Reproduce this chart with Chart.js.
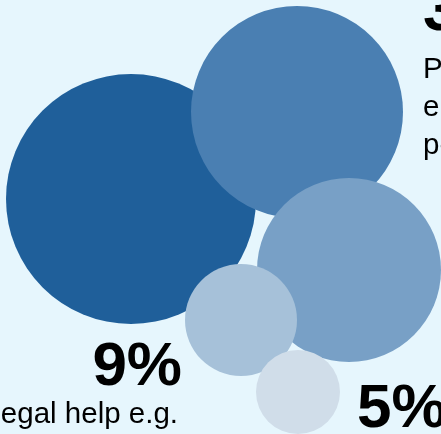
<!DOCTYPE html>
<html>
<head>
<meta charset="utf-8">
<script src="https://cdn.jsdelivr.net/npm/chart.js@4"></script>
<style>
  html, body { margin: 0; padding: 0; background: #e6f6fd; overflow: hidden; }
  #wrap { width: 441px; height: 434px; position: relative; }
</style>
</head>
<body>
<div id="wrap"><canvas id="bubbles"></canvas></div>
<script>
// bubble data (page units = pixels, y grows downward)
const shares = ['9%', '3%', '', '', '5%'];
const bubbleX = [131, 297, 349, 241, 298];
const bubbleY = [199, 112, 270, 320, 392];
const bubbleR = [125, 106, 92, 56, 42];
const bubbleColors = ['#1f5f9a', '#4a7fb2', '#78a0c6', '#a6c1d9', '#d0dde9'];

// callout texts
const bigNumbers = ['3', '9%', '5%'];
const rightLines = ['P', 'e', 'pe'];
const leftLine = 'egal help e.g.';

const points = bubbleX.map(function (x, i) {
  return { x: x, y: bubbleY[i], r: bubbleR[i] };
});

// draw the labels on top of the bubbles
const textPlugin = {
  id: 'calloutText',
  afterDatasetsDraw(chart) {
    const ctx = chart.ctx;
    ctx.save();
    ctx.fillStyle = '#000';
    ctx.textBaseline = 'alphabetic';

    ctx.font = 'bold 62px "Liberation Sans", Arial, sans-serif';
    ctx.textAlign = 'left';
    ctx.fillText(bigNumbers[0], 423, 30);
    ctx.textAlign = 'right';
    ctx.fillText(bigNumbers[1], 182, 385);
    ctx.textAlign = 'left';
    ctx.fillText(bigNumbers[2], 357, 427);

    ctx.font = '29.5px "Liberation Sans", Arial, sans-serif';
    ctx.textAlign = 'left';
    rightLines.forEach(function (t, i) {
      ctx.fillText(t, 423, 78 + i * 38);
    });
    ctx.textAlign = 'right';
    ctx.fillText(leftLine, 178, 423);
    ctx.restore();
  }
};

new Chart(document.getElementById('bubbles'), {
  type: 'bubble',
  data: {
    labels: shares,
    datasets: [{
      data: points,
      backgroundColor: bubbleColors,
      borderWidth: 0,
      hoverBorderWidth: 0
    }]
  },
  options: {
    responsive: true,
    maintainAspectRatio: false,
    animation: false,
    layout: { padding: 0, autoPadding: false },
    plugins: {
      legend: { display: false },
      tooltip: { enabled: false }
    },
    scales: {
      x: { type: 'linear', min: 0, max: 441, display: false },
      y: { type: 'linear', min: 0, max: 434, reverse: true, display: false }
    },
    clip: false
  },
  plugins: [textPlugin]
});
</script>
</body>
</html>
